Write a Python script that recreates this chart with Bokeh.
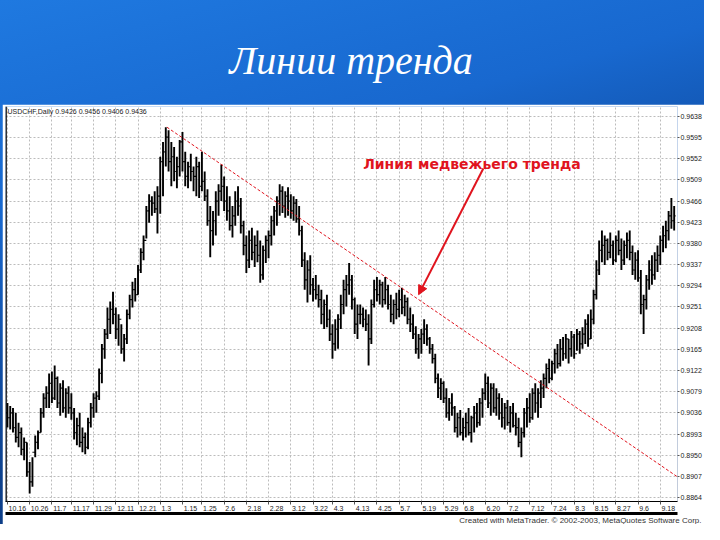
from bokeh.plotting import figure
from bokeh.models import (Range1d, FixedTicker, LinearAxis, Title, Label, Arrow,
                          NormalHead, Span, NumeralTickFormatter)
from bokeh.layouts import column
from bokeh.embed import file_html
from bokeh.resources import INLINE

slide_title = "Линии тренда"
annotation_text = "Линия медвежьего тренда"
header_text = "USDCHF,Daily  0.9426 0.9456 0.9406 0.9436"
credit_text = "Created with MetaTrader. \u00a9 2002-2003, MetaQuotes Software Corp."

date_ticks = [1, 9, 17, 24, 32, 40, 48, 56, 64, 71, 79, 87, 95, 103, 111, 118,
              126, 134, 142, 150, 158, 165, 173, 181, 189, 197, 205, 212, 220, 228, 236]
date_labels = ["10.16", "10.26", "11.7", "11.17", "11.29", "12.11", "12.21", "1.3",
               "1.15", "1.25", "2.6", "2.18", "2.28", "3.12", "3.22", "4.3", "4.13",
               "4.25", "5.7", "5.19", "5.29", "6.8", "6.20", "7.2", "7.12", "7.24",
               "8.3", "8.15", "8.27", "9.6", "9.18"]
price_ticks = [0.9638, 0.9595, 0.9552, 0.9509, 0.9466, 0.9423, 0.9380, 0.9337, 0.9294,
               0.9251, 0.9208, 0.9165, 0.9122, 0.9079, 0.9036, 0.8993, 0.8950, 0.8907, 0.8864]

high = [
    0.9056, 0.9050, 0.9046, 0.9036, 0.9016, 0.9006, 0.8986, 0.8976, 0.8936, 0.8946,
    0.8990, 0.9000, 0.9046, 0.9076, 0.9090, 0.9116, 0.9120, 0.9132, 0.9110, 0.9096,
    0.9102, 0.9086, 0.9090, 0.9076, 0.9046, 0.9026, 0.9036, 0.9006, 0.8996, 0.9026,
    0.9056, 0.9076, 0.9080, 0.9126, 0.9176, 0.9206, 0.9250, 0.9262, 0.9282, 0.9250,
    0.9236, 0.9216, 0.9196, 0.9246, 0.9276, 0.9302, 0.9310, 0.9336, 0.9370, 0.9396,
    0.9456, 0.9480, 0.9476, 0.9486, 0.9496, 0.9556, 0.9586, 0.9616, 0.9610, 0.9586,
    0.9576, 0.9556, 0.9590, 0.9606, 0.9566, 0.9546, 0.9562, 0.9536, 0.9556, 0.9546,
    0.9566, 0.9526, 0.9490, 0.9456, 0.9446, 0.9486, 0.9500, 0.9540, 0.9516, 0.9496,
    0.9476, 0.9456, 0.9486, 0.9496, 0.9472, 0.9426, 0.9396, 0.9406, 0.9412, 0.9396,
    0.9406, 0.9386, 0.9376, 0.9396, 0.9406, 0.9436, 0.9456, 0.9476, 0.9500, 0.9496,
    0.9486, 0.9494, 0.9480, 0.9476, 0.9470, 0.9456, 0.9416, 0.9362, 0.9346, 0.9356,
    0.9310, 0.9316, 0.9296, 0.9286, 0.9266, 0.9276, 0.9246, 0.9216, 0.9226, 0.9236,
    0.9276, 0.9306, 0.9316, 0.9340, 0.9316, 0.9270, 0.9256, 0.9256, 0.9250, 0.9246,
    0.9236, 0.9266, 0.9306, 0.9312, 0.9306, 0.9302, 0.9312, 0.9296, 0.9276, 0.9266,
    0.9280, 0.9286, 0.9290, 0.9276, 0.9270, 0.9250, 0.9236, 0.9212, 0.9196, 0.9206,
    0.9226, 0.9216, 0.9190, 0.9176, 0.9156, 0.9116, 0.9106, 0.9100, 0.9086, 0.9066,
    0.9076, 0.9050, 0.9036, 0.9042, 0.9026, 0.9036, 0.9046, 0.9030, 0.9050, 0.9056,
    0.9066, 0.9086, 0.9116, 0.9110, 0.9096, 0.9096, 0.9086, 0.9076, 0.9066, 0.9056,
    0.9062, 0.9050, 0.9056, 0.9036, 0.9026, 0.9006, 0.9046, 0.9066, 0.9076, 0.9086,
    0.9096, 0.9086, 0.9102, 0.9116, 0.9136, 0.9146, 0.9142, 0.9166, 0.9176, 0.9186,
    0.9190, 0.9196, 0.9186, 0.9202, 0.9196, 0.9206, 0.9202, 0.9210, 0.9226, 0.9236,
    0.9246, 0.9286, 0.9346, 0.9386, 0.9406, 0.9396, 0.9390, 0.9402, 0.9386, 0.9396,
    0.9406, 0.9390, 0.9386, 0.9402, 0.9406, 0.9376, 0.9362, 0.9366, 0.9326, 0.9276,
    0.9316, 0.9346, 0.9356, 0.9362, 0.9376, 0.9396, 0.9416, 0.9426, 0.9446, 0.9472, 0.9456,
]
low = [
    0.9006, 0.9002, 0.8996, 0.8976, 0.8966, 0.8950, 0.8940, 0.8906, 0.8872, 0.8886,
    0.8946, 0.8962, 0.8996, 0.9026, 0.9046, 0.9046, 0.9056, 0.9062, 0.9046, 0.9030,
    0.9036, 0.9026, 0.9034, 0.9022, 0.8982, 0.8970, 0.8966, 0.8956, 0.8952, 0.8962,
    0.9006, 0.9026, 0.9036, 0.9062, 0.9096, 0.9146, 0.9186, 0.9196, 0.9216, 0.9186,
    0.9172, 0.9156, 0.9140, 0.9176, 0.9226, 0.9250, 0.9262, 0.9276, 0.9320, 0.9346,
    0.9390, 0.9422, 0.9436, 0.9442, 0.9400, 0.9440, 0.9476, 0.9536, 0.9526, 0.9496,
    0.9506, 0.9492, 0.9516, 0.9526, 0.9496, 0.9492, 0.9506, 0.9486, 0.9476, 0.9472,
    0.9486, 0.9466, 0.9416, 0.9352, 0.9376, 0.9396, 0.9436, 0.9466, 0.9446, 0.9426,
    0.9406, 0.9392, 0.9416, 0.9436, 0.9400, 0.9356, 0.9320, 0.9330, 0.9346, 0.9332,
    0.9342, 0.9300, 0.9306, 0.9340, 0.9350, 0.9376, 0.9396, 0.9416, 0.9436, 0.9442,
    0.9432, 0.9436, 0.9430, 0.9426, 0.9422, 0.9396, 0.9332, 0.9286, 0.9260, 0.9276,
    0.9262, 0.9266, 0.9250, 0.9216, 0.9206, 0.9210, 0.9182, 0.9146, 0.9162, 0.9166,
    0.9206, 0.9236, 0.9252, 0.9276, 0.9246, 0.9196, 0.9186, 0.9216, 0.9210, 0.9202,
    0.9132, 0.9176, 0.9250, 0.9262, 0.9256, 0.9250, 0.9256, 0.9246, 0.9220, 0.9216,
    0.9226, 0.9230, 0.9236, 0.9232, 0.9216, 0.9200, 0.9186, 0.9156, 0.9146, 0.9156,
    0.9176, 0.9172, 0.9156, 0.9136, 0.9096, 0.9066, 0.9062, 0.9056, 0.9026, 0.9020,
    0.9030, 0.8996, 0.8986, 0.8990, 0.8980, 0.8986, 0.8990, 0.8976, 0.8996, 0.9006,
    0.9010, 0.9026, 0.9062, 0.9046, 0.9030, 0.9036, 0.9030, 0.9022, 0.9006, 0.9002,
    0.9010, 0.8996, 0.9006, 0.8990, 0.8966, 0.8946, 0.8986, 0.9006, 0.9016, 0.9022,
    0.9036, 0.9026, 0.9046, 0.9066, 0.9086, 0.9096, 0.9102, 0.9116, 0.9126, 0.9130,
    0.9142, 0.9146, 0.9136, 0.9150, 0.9146, 0.9162, 0.9156, 0.9166, 0.9176, 0.9170,
    0.9186, 0.9216, 0.9266, 0.9316, 0.9342, 0.9336, 0.9346, 0.9350, 0.9336, 0.9342,
    0.9356, 0.9326, 0.9336, 0.9350, 0.9346, 0.9316, 0.9306, 0.9302, 0.9236, 0.9196,
    0.9246, 0.9286, 0.9296, 0.9306, 0.9322, 0.9336, 0.9362, 0.9370, 0.9386, 0.9410, 0.9406,
]
close = [
    0.9026, 0.9036, 0.9006, 0.8986, 0.8996, 0.8962, 0.8976, 0.8916, 0.8896, 0.8956,
    0.8976, 0.8996, 0.9036, 0.9066, 0.9076, 0.9096, 0.9066, 0.9106, 0.9056, 0.9086,
    0.9046, 0.9076, 0.9046, 0.9036, 0.8996, 0.9010, 0.8976, 0.8986, 0.8966, 0.9016,
    0.9046, 0.9066, 0.9070, 0.9116, 0.9166, 0.9196, 0.9226, 0.9246, 0.9236, 0.9206,
    0.9226, 0.9166, 0.9186, 0.9236, 0.9266, 0.9286, 0.9276, 0.9326, 0.9362, 0.9386,
    0.9446, 0.9466, 0.9462, 0.9450, 0.9476, 0.9546, 0.9566, 0.9596, 0.9546, 0.9556,
    0.9526, 0.9536, 0.9586, 0.9546, 0.9516, 0.9536, 0.9526, 0.9516, 0.9536, 0.9496,
    0.9506, 0.9476, 0.9426, 0.9406, 0.9426, 0.9466, 0.9486, 0.9496, 0.9466, 0.9446,
    0.9416, 0.9436, 0.9466, 0.9456, 0.9416, 0.9376, 0.9346, 0.9386, 0.9362, 0.9376,
    0.9356, 0.9316, 0.9366, 0.9386, 0.9396, 0.9426, 0.9446, 0.9466, 0.9486, 0.9456,
    0.9476, 0.9466, 0.9446, 0.9462, 0.9430, 0.9406, 0.9346, 0.9306, 0.9326, 0.9296,
    0.9286, 0.9276, 0.9266, 0.9236, 0.9256, 0.9226, 0.9196, 0.9176, 0.9206, 0.9226,
    0.9256, 0.9286, 0.9296, 0.9306, 0.9266, 0.9216, 0.9236, 0.9236, 0.9226, 0.9216,
    0.9186, 0.9256, 0.9286, 0.9276, 0.9296, 0.9266, 0.9286, 0.9256, 0.9236, 0.9256,
    0.9246, 0.9266, 0.9250, 0.9262, 0.9226, 0.9216, 0.9196, 0.9166, 0.9186, 0.9196,
    0.9206, 0.9186, 0.9166, 0.9146, 0.9106, 0.9086, 0.9096, 0.9066, 0.9036, 0.9056,
    0.9046, 0.9006, 0.9026, 0.8996, 0.9006, 0.9016, 0.8996, 0.9026, 0.9036, 0.9016,
    0.9056, 0.9076, 0.9096, 0.9056, 0.9086, 0.9046, 0.9066, 0.9036, 0.9026, 0.9046,
    0.9016, 0.9036, 0.9010, 0.9006, 0.8976, 0.8996, 0.9036, 0.9046, 0.9026, 0.9076,
    0.9056, 0.9076, 0.9086, 0.9106, 0.9126, 0.9106, 0.9136, 0.9156, 0.9136, 0.9166,
    0.9156, 0.9186, 0.9166, 0.9190, 0.9156, 0.9196, 0.9176, 0.9196, 0.9216, 0.9186,
    0.9226, 0.9276, 0.9326, 0.9366, 0.9376, 0.9386, 0.9362, 0.9376, 0.9346, 0.9386,
    0.9366, 0.9346, 0.9376, 0.9386, 0.9362, 0.9326, 0.9346, 0.9310, 0.9256, 0.9266,
    0.9306, 0.9326, 0.9316, 0.9346, 0.9356, 0.9386, 0.9396, 0.9406, 0.9436, 0.9426, 0.9436,
]
first_open = 0.9036

trend_x = [58.4, 242.2]
trend_y = [0.9616, 0.8906]
arrow_start = (172.3, 0.9532)
arrow_end = (149.0, 0.9276)
annotation_pos = (168.2, 0.9542)
header_pos = (1.0, 0.9648)

RED = "#e0141e"
PX_PER_BAR = 2.79          # frame width / visible bar span (layout helper)

bars = list(range(1, len(high) + 1))
opens = [first_open] + close[:-1]

# label anchor positions so that each date label starts just right of its tick
def _label_width_px(s):
    return sum(1.95 if ch == "." else 3.9 for ch in s)

label_pos = [tk + (_label_width_px(lb) / 2 + 1.2) / PX_PER_BAR
             for tk, lb in zip(date_ticks, date_labels)]

# ---------- title strip ----------
t = figure(width=704, height=104, x_range=Range1d(0, 704), y_range=Range1d(0, 104),
           toolbar_location=None, output_backend="svg", min_border=0,
           x_axis_type=None, y_axis_type=None,
           background_fill_alpha=0, border_fill_alpha=0, outline_line_color=None)
t.grid.visible = False
t.add_layout(Label(x=363, y=44, text=slide_title, text_align="center",
                   text_baseline="alphabetic", text_font="Liberation Serif",
                   text_font_style="italic", text_font_size="40px", text_color="white"))

# ---------- chart ----------
p = figure(width=702, height=420, x_range=Range1d(0.3, 242.2),
           y_range=Range1d(0.8856, 0.9658), y_axis_location="right",
           toolbar_location=None, output_backend="svg",
           min_border_left=3, min_border_right=24, min_border_top=2, min_border_bottom=20,
           background_fill_color="white", border_fill_color="white",
           outline_line_color=None, margin=(0, 0, 0, 2))

p.xaxis.ticker = FixedTicker(ticks=label_pos, minor_ticks=date_ticks)
p.xaxis.major_label_overrides = {lp: lb for lp, lb in zip(label_pos, date_labels)}
p.xaxis.major_label_text_font = "Liberation Sans"
p.xaxis.major_label_text_font_size = "7px"
p.xaxis.major_label_text_color = "#222222"
p.xaxis.major_label_standoff = 1
p.xaxis.major_tick_out = 0
p.xaxis.major_tick_in = 0
p.xaxis.minor_tick_out = 3
p.xaxis.minor_tick_in = 0
p.xaxis.minor_tick_line_color = "#555555"
p.xaxis.axis_line_color = "black"

p.yaxis.ticker = FixedTicker(ticks=price_ticks)
p.yaxis.formatter = NumeralTickFormatter(format="0.0000")
p.yaxis.major_label_text_font = "Liberation Sans"
p.yaxis.major_label_text_font_size = "7px"
p.yaxis.major_label_text_color = "#222222"
p.yaxis.major_label_standoff = 1
p.yaxis.major_tick_out = 2
p.yaxis.major_tick_in = 0
p.yaxis.minor_tick_out = 0
p.yaxis.axis_line_color = None
p.yaxis.major_tick_line_color = "#555555"

p.xgrid.ticker = FixedTicker(ticks=date_ticks)
for g in (p.xgrid, p.ygrid):
    g.grid_line_color = "#bcbcbc"
    g.grid_line_dash = "2 2"
    g.grid_line_width = 1

thick = LinearAxis(ticker=FixedTicker(ticks=[]), axis_line_width=3, axis_line_color="black",
                   major_tick_out=0, major_tick_in=0, minor_tick_out=0, minor_tick_in=0,
                   major_label_text_font_size="0px", major_label_standoff=0)
p.add_layout(thick, "below")
p.add_layout(Title(text=credit_text, align="right", text_font="Liberation Sans",
                   text_font_size="8px", text_font_style="normal", text_color="#333333",
                   standoff=0, offset=-24), "below")

p.add_layout(Span(location=0.5, dimension="height", line_color="black", line_width=1.5))

# OHLC bars
p.segment(x0=bars, y0=low, x1=bars, y1=high, line_color="black", line_width=1.9)
p.segment(x0=[b - 0.5 for b in bars], y0=opens, x1=bars, y1=opens,
          line_color="black", line_width=1.2)
p.segment(x0=bars, y0=close, x1=[b + 0.5 for b in bars], y1=close,
          line_color="black", line_width=1.2)

# trend line
p.line(trend_x, trend_y, line_color=RED, line_width=1, line_dash="3 2")

p.add_layout(Label(x=header_pos[0], y=header_pos[1], text=header_text,
                   text_font="Liberation Sans", text_font_size="7px",
                   text_baseline="middle", text_color="#222222"))
p.add_layout(Label(x=annotation_pos[0], y=annotation_pos[1], text=annotation_text,
                   text_align="center", text_baseline="alphabetic",
                   text_font="DejaVu Sans", text_font_style="bold",
                   text_font_size="14px", text_color=RED))
p.add_layout(Arrow(end=NormalHead(size=9, fill_color=RED, line_color=RED),
                   x_start=arrow_start[0], y_start=arrow_start[1],
                   x_end=arrow_end[0], y_end=arrow_end[1],
                   line_color=RED, line_width=2))

page = column(t, p, width=704, height=524, spacing=0,
              styles={"background": "linear-gradient(165deg, #1f79e0 0%, #1868cf 30%, #0f4a9e 55%, #0a2c66 100%)"})

open("out.html", "w").write(file_html(page, INLINE))
